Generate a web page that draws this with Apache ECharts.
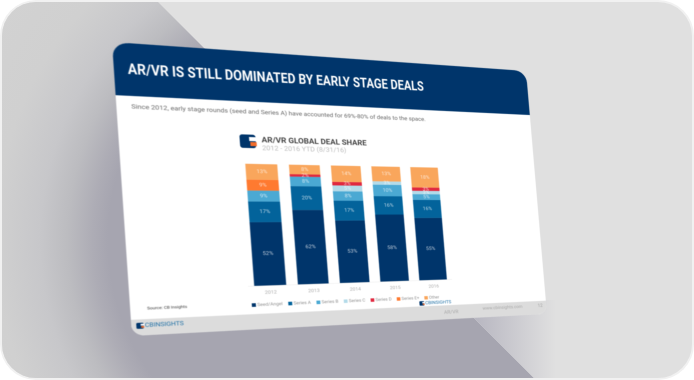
<!DOCTYPE html>
<html><head><meta charset="utf-8">
<script src="https://cdn.jsdelivr.net/npm/echarts@6/dist/echarts.min.js"></script>
<style>
html,body{margin:0;padding:0;background:#fff;width:694px;height:380px;overflow:hidden}
#card{position:absolute;left:2px;top:2px;width:690px;height:376px;border-radius:34px;overflow:hidden;background:#e0e0e0;box-shadow:0 0 0 2px #f1f1f1}
#dark{position:absolute;left:-2px;top:-2px;width:694px;height:380px;
 background:radial-gradient(circle 410px at 340px 240px,#a6a5b0 0,#a6a5b0 232px,#adacb5 247px,#bcbcc0 273px,#c7c7ca 300px,#d0d0d0 345px,#d2d2d2 410px);
 clip-path:polygon(0 0,156px 0,536px 380px,0 380px)}
#lite{position:absolute;left:-2px;top:-2px;width:694px;height:380px;
 background:linear-gradient(90deg,#b5b4bf 470px,#e0e0e0 556px);
 clip-path:polygon(456px 300px,600px 300px,600px 380px,536px 380px)}
#slide{position:absolute;left:0;top:0;width:1000px;height:700px;transform-origin:0 0;background:#fff;border-radius:34px 34px 26px 26px;overflow:hidden;filter:blur(1.25px)}
#chart{width:1000px;height:700px}
</style></head><body>
<div id="card"><div id="dark"></div><div id="lite"></div></div>
<div id="slide"><div id="chart"></div></div>
<script>
const categories=['2012','2013','2014','2015','2016'];
const seedAngel=[52,62,53,58,55];
const seriesA=[17,20,17,16,16];
const seriesB=[9,8,8,10,5];
const seriesC=[0,0,5,3,3];
const seriesD=[0,2,3,0,3];
const seriesEPlus=[9,0,0,0,0];
const other=[13,8,14,13,18];
const seriesNames=['Seed/Angel','Series A','Series B','Series C','Series D','Series E+','Other'];
const seriesValues=[seedAngel,seriesA,seriesB,seriesC,seriesD,seriesEPlus,other];
const colors=['#00356b','#03639b','#4ba9d3','#b4dbe9','#e0283f','#ff7a30','#f9a65c'];
const titleText='AR/VR IS STILL DOMINATED BY EARLY STAGE DEALS';
const subText='Since 2012, early stage rounds (seed and Series A) have accounted for 69%-80% of deals to the space.';

// slide corners on the page: TL, TR, BR, BL
const W=1000,H=700;
const q=[[112,42],[526,71],[547,314],[132,336]];
(function(){
 const [x0,y0]=q[0],[x1,y1]=q[1],[x2,y2]=q[2],[x3,y3]=q[3];
 const dx1=x1-x2,dx2=x3-x2,sx=x0-x1+x2-x3,dy1=y1-y2,dy2=y3-y2,sy=y0-y1+y2-y3;
 const den=dx1*dy2-dx2*dy1;
 const g=(sx*dy2-dx2*sy)/den,h=(dx1*sy-sx*dy1)/den;
 const a=x1-x0+g*x1,b=x3-x0+h*x3,d=y1-y0+g*y1,e=y3-y0+h*y3;
 const m=[a/W,d/W,0,g/W,b/H,e/H,0,h/H,0,0,1,0,x0,y0,0,1];
 document.getElementById('slide').style.transform='matrix3d('+m.join(',')+')';
})();

function logo(x,y,s){
 return [
  {type:'rect',shape:{x:x,y:y,width:s*1.05,height:s,r:s*0.18},style:{fill:'#00356b'}},
  {type:'rect',shape:{x:x+s*0.62,y:y+s*0.18,width:s*0.55,height:s*0.3},style:{fill:'#fff'}},
  {type:'rect',shape:{x:x+s*0.68,y:y+s*0.55,width:s*0.42,height:s*0.3},style:{fill:'#f26c2b'}}
 ];
}
const chart=echarts.init(document.getElementById('chart'),null,{renderer:'canvas',devicePixelRatio:2});
chart.setOption({
 animation:false,
 grid:{left:250,top:286,width:494,height:306,containLabel:false},
 legend:{bottom:50,left:250,itemWidth:9,itemHeight:9,itemGap:13,icon:'rect',textStyle:{color:'#8e8e8e',fontSize:11,fontFamily:'Roboto',padding:[0,0,0,-2]},data:seriesNames},
 xAxis:{type:'category',data:categories,axisTick:{show:false},axisLine:{lineStyle:{color:'#e6e6e6'}},axisLabel:{color:'#aaa',fontSize:12,margin:12,fontFamily:'Roboto'}},
 yAxis:{type:'value',min:0,max:100,show:false},
 series:seriesNames.map((n,i)=>({
  name:n,type:'bar',stack:'deals',barWidth:72,data:seriesValues[i],
  itemStyle:{color:colors[i]},
  label:{show:true,position:'inside',fontSize:13,fontFamily:'Roboto',color:'rgba(255,255,255,.75)',
   formatter:p=>p.value>0?p.value+'%':''}
 })),
 graphic:[
  {type:'rect',z:-1,shape:{x:0,y:0,width:W,height:128},style:{fill:'#00356b'}},
  {type:'rect',z:-1,shape:{x:0,y:662,width:W,height:38},style:{fill:'#dcdcdc'}},
  {type:'text',x:28,y:48,style:{text:titleText,fill:'#fff',font:'bold 36px "Roboto"'},scaleX:.785},
  {type:'text',x:30,y:147,style:{text:subText,fill:'#666',font:'15px "Roboto"'}},
  ...logo(255,212,34),
  {type:'text',x:304,y:216,style:{text:'AR/VR GLOBAL DEAL SHARE',fill:'#444',font:'bold 19px "Roboto"'}},
  {type:'text',x:304,y:238,style:{text:'2012 - 2016 YTD (8/31/16)',fill:'#bbb',font:'16.5px "Roboto"'}},
  {type:'text',x:34,y:632,style:{text:'Source: CB Insights',fill:'#333',font:'9.5px "Roboto"'}},
  ...logo(654,648,12),
  {type:'text',x:669,y:648,style:{text:'CBINSIGHTS',fill:'#1d6fa5',font:'12px "Roboto"'}},
  ...logo(10,670,14),
  {type:'text',x:27,y:670,style:{text:'CBINSIGHTS',fill:'#1d6fa5',font:'14px "Roboto"'}},
  {type:'text',x:716,y:675,style:{text:'AR/VR',fill:'#aaa',font:'13px "Roboto"'}},
  {type:'text',x:820,y:670,style:{text:'www.cbinsights.com',fill:'#aaa',font:'12px "Roboto"'}},
  {type:'text',x:975,y:669,style:{text:'12',fill:'#a5a5a5',font:'13px "Roboto"'}}
 ]
});
</script></body></html>
